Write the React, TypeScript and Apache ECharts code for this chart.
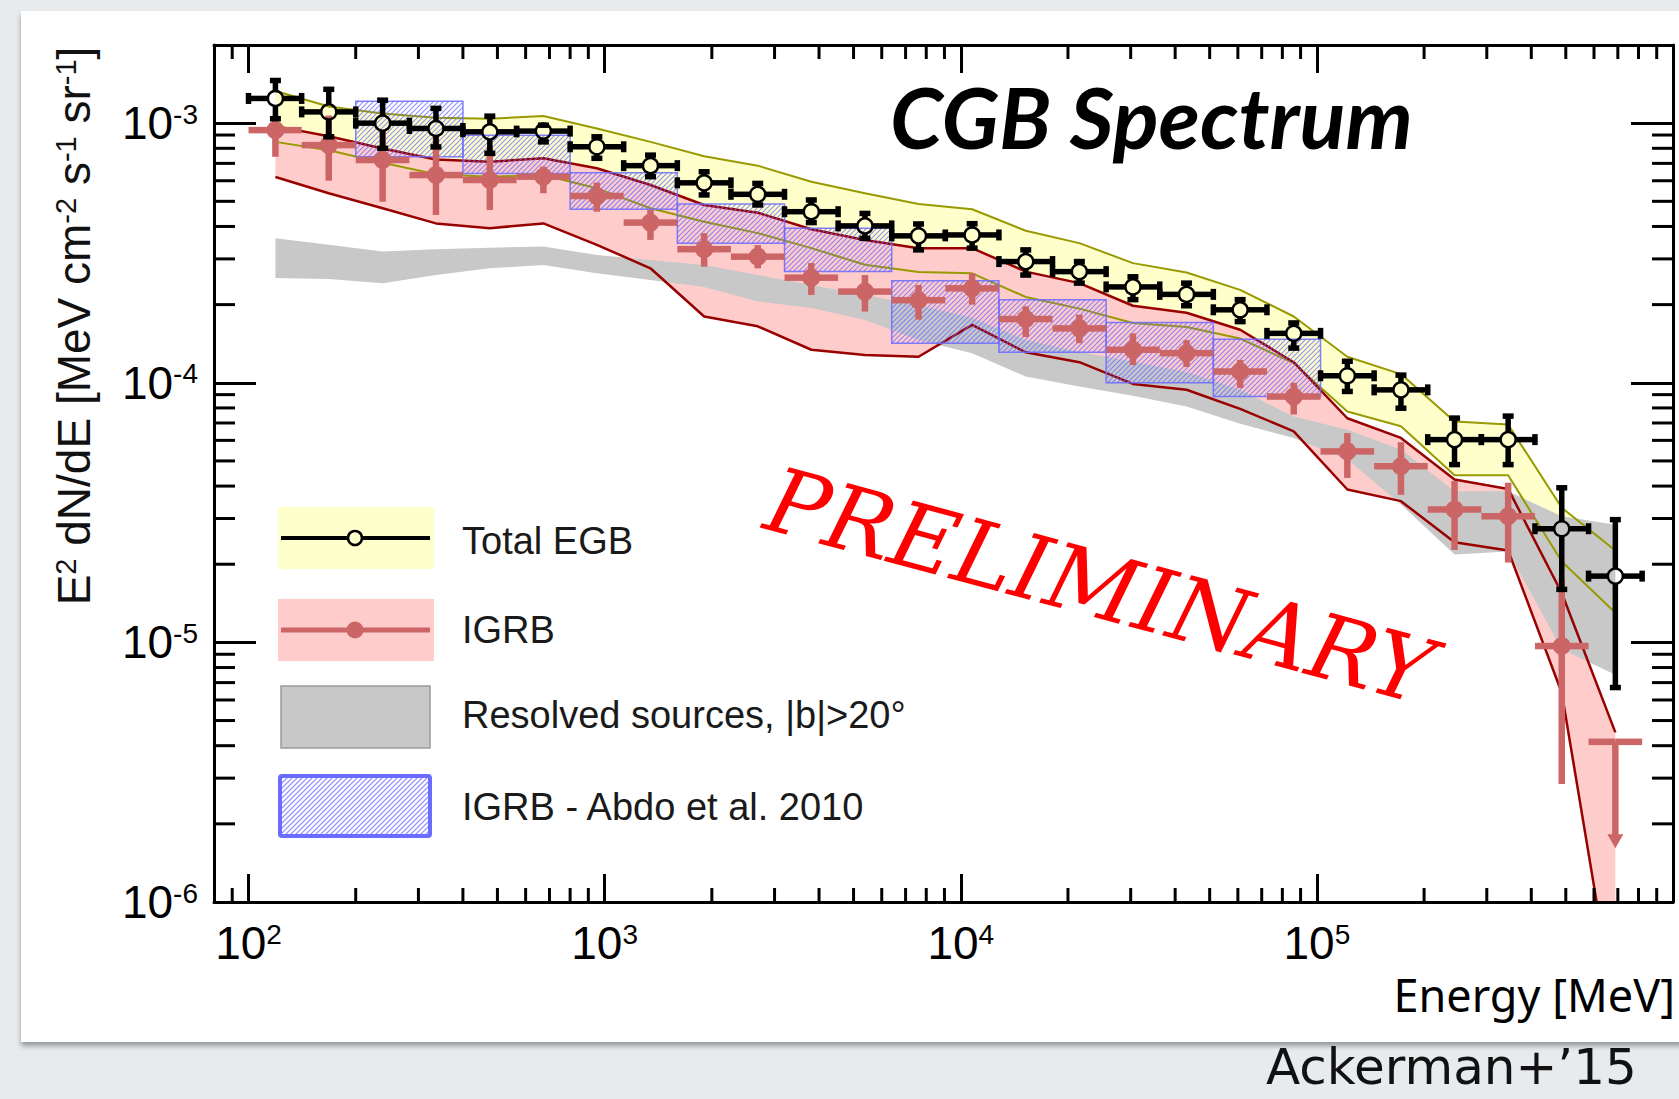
import React, { useEffect, useRef } from 'react';
import * as echarts from 'echarts';

// ---- Energy binning (MeV) ----
const binLow = [100, 141, 200, 283, 400, 566, 800, 1131, 1600, 2263, 3200, 4525, 6400, 9051, 12800, 18102, 25600, 36204, 51200, 72408, 102400, 144815, 204800, 289631, 409600, 579262];
const binHigh = [141, 200, 283, 400, 566, 800, 1131, 1600, 2263, 3200, 4525, 6400, 9051, 12800, 18102, 25600, 36204, 51200, 72408, 102400, 144815, 204800, 289631, 409600, 579262, 819200];
const binCenter = [119, 168, 238, 336, 476, 673, 951, 1345, 1903, 2691, 3805, 5382, 7611, 10763, 15222, 21527, 30443, 43054, 60887, 86107, 121775, 172215, 243549, 344431, 487099, 688862];

// ---- Total EGB (E^2 dN/dE, MeV cm^-2 s^-1 sr^-1) ----
const egbFlux = [1.245e-3, 1.105e-3, 1.0e-3, 0.954e-3, 0.926e-3, 0.932e-3, 0.811e-3, 0.686e-3, 0.589e-3, 0.532e-3, 0.456e-3, 0.402e-3, 0.368e-3, 0.371e-3, 0.293e-3, 0.268e-3, 0.234e-3, 0.219e-3, 0.191e-3, 0.155e-3, 1.064e-4, 0.939e-4, 6.04e-5, 6.04e-5, 2.74e-5, 1.8e-5];
const egbErrHigh = [1.46e-3, 1.35e-3, 1.226e-3, 1.14e-3, 1.064e-3, 0.982e-3, 0.886e-3, 0.753e-3, 0.65e-3, 0.586e-3, 0.506e-3, 0.449e-3, 0.409e-3, 0.41e-3, 0.325e-3, 0.293e-3, 0.256e-3, 0.242e-3, 0.209e-3, 0.17e-3, 1.21e-4, 1.07e-4, 7.31e-5, 7.44e-5, 3.94e-5, 2.97e-5];
const egbErrLow = [1.04e-3, 0.886e-3, 0.8e-3, 0.81e-3, 0.765e-3, 0.847e-3, 0.732e-3, 0.622e-3, 0.529e-3, 0.484e-3, 0.414e-3, 0.36e-3, 0.325e-3, 0.33e-3, 0.26e-3, 0.242e-3, 0.209e-3, 0.198e-3, 0.172e-3, 0.136e-3, 0.926e-4, 0.798e-4, 4.84e-5, 4.84e-5, 1.6e-5, 6.7e-6];
const egbSysHigh = [1.33e-3, 1.16e-3, 1.09e-3, 1.05e-3, 1.04e-3, 1.066e-3, 0.954e-3, 0.847e-3, 0.746e-3, 0.686e-3, 0.595e-3, 0.537e-3, 0.488e-3, 0.466e-3, 0.385e-3, 0.345e-3, 0.289e-3, 0.266e-3, 0.228e-3, 0.18e-3, 1.26e-4, 1.08e-4, 7.1e-5, 6.9e-5, 3.3e-5, 2.26e-5];
const egbSysLow = [0.847e-3, 0.787e-3, 0.704e-3, 0.636e-3, 0.622e-3, 0.631e-3, 0.561e-3, 0.47e-3, 0.417e-3, 0.377e-3, 0.33e-3, 0.285e-3, 0.267e-3, 0.264e-3, 0.214e-3, 0.193e-3, 0.17e-3, 0.164e-3, 0.148e-3, 0.119e-3, 7.75e-5, 6.8e-5, 4.4e-5, 4.4e-5, 2.05e-5, 1.3e-5];

// ---- IGRB ----
const igrbFlux = [0.94e-3, 0.823e-3, 0.721e-3, 0.631e-3, 0.604e-3, 0.622e-3, 0.524e-3, 0.414e-3, 0.327e-3, 0.306e-3, 0.254e-3, 0.2245e-3, 0.208e-3, 0.231e-3, 0.176e-3, 0.162e-3, 0.134e-3, 0.13e-3, 1.105e-4, 0.885e-4, 5.44e-5, 4.77e-5, 3.25e-5, 3.06e-5, 9.68e-6, 4.14e-6];
const igrbErrHigh = [1.07e-3, 1.07e-3, 0.94e-3, 0.886e-3, 0.811e-3, 0.68e-3, 0.59e-3, 0.463e-3, 0.377e-3, 0.339e-3, 0.289e-3, 0.26e-3, 0.238e-3, 0.264e-3, 0.197e-3, 0.183e-3, 0.155e-3, 0.146e-3, 1.225e-4, 1.0e-4, 6.4e-5, 5.9e-5, 4.18e-5, 4.12e-5, 1.75e-5, 4.14e-6];
const igrbErrLow = [0.742e-3, 0.6e-3, 0.498e-3, 0.443e-3, 0.463e-3, 0.537e-3, 0.456e-3, 0.355e-3, 0.28e-3, 0.276e-3, 0.218e-3, 0.188e-3, 0.175e-3, 0.2e-3, 0.15e-3, 0.142e-3, 0.117e-3, 0.115e-3, 0.955e-4, 0.755e-4, 4.3e-5, 3.7e-5, 2.27e-5, 2.03e-5, 2.85e-6, 1.61e-6];
const igrbIsLimit = [0, 0, 0, 0, 0, 0, 0, 0, 0, 0, 0, 0, 0, 0, 0, 0, 0, 0, 0, 0, 0, 0, 0, 0, 0, 1];
const igrbSysHigh = [0.974e-3, 0.891e-3, 0.799e-3, 0.725e-3, 0.71e-3, 0.732e-3, 0.67e-3, 0.578e-3, 0.484e-3, 0.452e-3, 0.39e-3, 0.355e-3, 0.33e-3, 0.33e-3, 0.268e-3, 0.242e-3, 0.198e-3, 0.186e-3, 0.16e-3, 1.2e-4, 7.3e-5, 6.13e-5, 4.24e-5, 3.9e-5, 1.55e-5, 4.5e-6];
const igrbSysLow = [0.62e-3, 0.537e-3, 0.47e-3, 0.411e-3, 0.394e-3, 0.411e-3, 0.34e-3, 0.276e-3, 0.18e-3, 0.165e-3, 0.134e-3, 0.128e-3, 0.126e-3, 0.167e-3, 0.131e-3, 0.12e-3, 0.099e-3, 0.094e-3, 0.0793e-3, 6.5e-5, 3.88e-5, 3.5e-5, 2.43e-5, 2.26e-5, 6.4e-6, 3.7e-7];

// ---- Resolved sources, |b|>20 deg ----
const resolvedHigh = [0.36e-3, 0.34e-3, 0.32e-3, 0.327e-3, 0.331e-3, 0.335e-3, 0.3105e-3, 0.297e-3, 0.284e-3, 0.26e-3, 0.238e-3, 0.218e-3, 0.1995e-3, 0.178e-3, 0.146e-3, 0.1315e-3, 0.1204e-3, 0.11e-3, 0.094e-3, 7.41e-5, 6.59e-5, 5.53e-5, 3.82e-5, 3.82e-5, 3.06e-5, 2.84e-5];
const resolvedLow = [0.253e-3, 0.251e-3, 0.2417e-3, 0.26e-3, 0.276e-3, 0.284e-3, 0.264e-3, 0.249e-3, 0.234e-3, 0.2055e-3, 0.194e-3, 0.1745e-3, 0.146e-3, 0.13e-3, 0.1057e-3, 0.0968e-3, 0.0891e-3, 0.0811e-3, 0.0695e-3, 6.13e-5, 5.06e-5, 3.4e-5, 2.18e-5, 2.24e-5, 9.4e-6, 7.5e-6];

// ---- IGRB, Abdo et al. 2010 ----
const abdoEnergyLow = [200, 400, 800, 1600, 3200, 6400, 12800, 25600, 51200];
const abdoEnergyHigh = [400, 800, 1600, 3200, 6400, 12800, 25600, 51200, 102400];
const abdoFluxHigh = [1.215e-3, 0.899e-3, 0.644e-3, 0.488e-3, 0.394e-3, 0.247e-3, 0.209e-3, 0.1706e-3, 0.147e-3];
const abdoFluxLow = [0.742e-3, 0.64e-3, 0.466e-3, 0.345e-3, 0.268e-3, 0.142e-3, 0.131e-3, 0.1e-3, 0.0886e-3];

// ---- Axes ----
const xRange = [80, 1e6];
const yRange = [1e-6, 2e-3];
const xTickExponents = [2, 3, 4, 5];
const yTickExponents = [-6, -5, -4, -3];

const AXIS_FONT = '"Liberation Sans", Arial, Helvetica, sans-serif';
const TITLE_FONT = 'Lato, "Open Sans", sans-serif';
const NOTE_FONT = '"Noto Sans", "Open Sans", sans-serif';

const YELLOW = '#ffffcc';
const PINK = '#ffcccc';
const GREY = '#c8c8c8';
const OLIVE = '#999900';
const DARK_RED = '#990000';
const IGRB_RED = '#cc6666';
const HATCH_BLUE = '#6b6bff';

const decadeTicks = (fromExp: number, toExp: number) => {
  const out: number[] = [];
  for (let k = fromExp; k < toExp; k++) for (let m = 2; m <= 9; m++) out.push(m * Math.pow(10, k));
  return out;
};
const xMinorTicks = [90, ...decadeTicks(2, 6)];
const yMinorTicks = decadeTicks(-6, -3);

const powerLabel = (exps: number[]) => (value: number) => {
  const e = Math.log10(value);
  const r = Math.round(e);
  if (Math.abs(e - r) > 1e-6 || exps.indexOf(r) < 0) return '';
  return `{b|10}{s|${r}}`;
};

const labelRich = {
  b: { fontFamily: AXIS_FONT, fontSize: 46, lineHeight: 46, padding: [6, 0, 0, 0], verticalAlign: 'bottom', color: '#000' },
  s: { fontFamily: AXIS_FONT, fontSize: 28, lineHeight: 28, verticalAlign: 'top', color: '#000' },
};

// diagonal "////" hatch lines clipped to a rectangle
function hatchLines(x0: number, y0: number, w: number, h: number, step: number, width: number) {
  const out: any[] = [];
  const start = Math.ceil((x0 + y0) / step) * step;
  for (let c = start; c <= x0 + w + y0 + h; c += step) {
    const xa = Math.max(x0, c - (y0 + h));
    const xb = Math.min(x0 + w, c - y0);
    if (xb <= xa) continue;
    out.push({ type: 'line', shape: { x1: xa, y1: c - xa, x2: xb, y2: c - xb }, style: { stroke: HATCH_BLUE, lineWidth: width, opacity: 0.75 } });
  }
  return out;
}

const bandSeries = (low: number[], high: number[], fill: string) => ({
  type: 'custom',
  silent: true,
  clip: true,
  z: 2,
  data: binCenter.map((e, i) => [e, low[i], high[i]]),
  encode: { x: 0, y: [1, 2] },
  renderItem: (params: any, api: any) => {
    if (params.dataIndex !== 0) return null;
    const top = binCenter.map((e, i) => api.coord([e, high[i]]));
    const bottom = binCenter.map((e, i) => api.coord([e, low[i]])).reverse();
    return { type: 'polygon', shape: { points: top.concat(bottom) }, style: { fill } };
  },
});

const outlineSeries = (values: number[], color: string, width: number) => ({
  type: 'line',
  silent: true,
  clip: true,
  z: 3,
  symbol: 'none',
  showSymbol: false,
  data: binCenter.map((e, i) => [e, values[i]]),
  lineStyle: { color, width },
});

function errorBarRenderer(color: string, lw: number, cap: number, radius: number, hollow: boolean) {
  return (_params: any, api: any) => {
    const E = api.value(0);
    const v = api.value(1);
    const c = api.coord([E, v]);
    const xl = api.coord([api.value(2), v])[0];
    const xh = api.coord([api.value(3), v])[0];
    const yLo = api.coord([E, api.value(4)])[1];
    const yHi = api.coord([E, api.value(5)])[1];
    const limit = api.value(6) === 1;
    const gap = hollow ? radius : 0;
    const kids: any[] = [];
    const seg = (x1: number, y1: number, x2: number, y2: number, w = lw) =>
      kids.push({ type: 'line', shape: { x1, y1, x2, y2 }, style: { stroke: color, lineWidth: w } });
    seg(xl, c[1], c[0] - gap, c[1]);
    seg(c[0] + gap, c[1], xh, c[1]);
    if (limit) {
      const head = 14;
      seg(c[0], c[1], c[0], yLo - head + 1);
      kids.push({ type: 'polygon', shape: { points: [[c[0] - 8, yLo - head], [c[0] + 8, yLo - head], [c[0], yLo]] }, style: { fill: color } });
      return { type: 'group', children: kids };
    }
    if (c[1] - gap > yHi) seg(c[0], yHi, c[0], c[1] - gap);
    if (yLo > c[1] + gap) seg(c[0], c[1] + gap, c[0], yLo);
    if (cap > 0) {
      const cw = lw;
      seg(xl, c[1] - cap / 2, xl, c[1] + cap / 2, cw);
      seg(xh, c[1] - cap / 2, xh, c[1] + cap / 2, cw);
      seg(c[0] - cap / 2, yHi, c[0] + cap / 2, yHi, cw);
      seg(c[0] - cap / 2, yLo, c[0] + cap / 2, yLo, cw);
    }
    kids.push(
      hollow
        ? { type: 'circle', shape: { cx: c[0], cy: c[1], r: radius }, style: { fill: 'none', stroke: color, lineWidth: 2.5 } }
        : { type: 'circle', shape: { cx: c[0], cy: c[1], r: radius }, style: { fill: color } }
    );
    return { type: 'group', children: kids };
  };
}

function buildOption() {
  const xAxisBase = {
    type: 'log',
    logBase: 10,
    min: xRange[0],
    max: xRange[1],
    z: 10,
    splitLine: { show: false },
    axisLine: { show: true, onZero: false, lineStyle: { color: '#000', width: 3 } },
    axisTick: { show: true, inside: true, length: 28, lineStyle: { color: '#000', width: 3 } },
  };
  const yAxisBase = {
    type: 'log',
    logBase: 10,
    min: yRange[0],
    max: yRange[1],
    z: 10,
    splitLine: { show: false },
    axisLine: { show: true, onZero: false, lineStyle: { color: '#000', width: 3 } },
    axisTick: { show: true, inside: true, length: 42, lineStyle: { color: '#000', width: 3 } },
  };

  const legendHatch = hatchLines(281, 777, 148, 58, 5, 1.1);

  const graphic: any[] = [
    // y-axis title
    {
      type: 'text',
      x: 74,
      y: 326,
      rotation: Math.PI / 2,
      style: {
        text: '{b|E}{s|2}{b| dN/dE [MeV cm}{s|-2}{b| s}{s|-1}{b| sr}{s|-1}{b|]}',
        align: 'center',
        verticalAlign: 'middle',
        rich: {
          b: { fontFamily: AXIS_FONT, fontSize: 46, lineHeight: 46, padding: [11, 0, 0, 0], verticalAlign: 'bottom', fill: '#111' },
          s: { fontFamily: AXIS_FONT, fontSize: 29, lineHeight: 29, verticalAlign: 'top', fill: '#111' },
        },
      },
    },
    {
      type: 'text',
      x: 1675,
      y: 994,
      style: { text: 'Energy [MeV]', fontFamily: NOTE_FONT, fontSize: 45, fill: '#000', align: 'right', verticalAlign: 'middle' },
    },
    {
      type: 'text',
      x: 890,
      y: 116,
      style: { text: 'CGB Spectrum', fontFamily: TITLE_FONT, fontSize: 85, fontWeight: 'bold', fontStyle: 'italic', fill: '#000', align: 'left', verticalAlign: 'middle' },
    },
    {
      type: 'text',
      x: 1100,
      y: 586,
      rotation: -0.262,
      style: { text: 'PRELIMINARY', fontFamily: '"DejaVu Serif", serif', fontSize: 90, fontStyle: 'italic', fill: '#ff0000', align: 'center', verticalAlign: 'middle' },
    },
    {
      type: 'text',
      x: 1266,
      y: 1067,
      style: { text: 'Ackerman+\u201915', fontFamily: '"DejaVu Sans", sans-serif', fontSize: 50, fill: '#111', align: 'left', verticalAlign: 'middle' },
    },
    // legend: Total EGB
    { type: 'rect', shape: { x: 278, y: 507, width: 156, height: 62 }, style: { fill: YELLOW } },
    { type: 'line', shape: { x1: 281, y1: 538, x2: 348, y2: 538 }, style: { stroke: '#000', lineWidth: 4 } },
    { type: 'line', shape: { x1: 362, y1: 538, x2: 430, y2: 538 }, style: { stroke: '#000', lineWidth: 4 } },
    { type: 'circle', shape: { cx: 355, cy: 538, r: 7 }, style: { fill: 'none', stroke: '#000', lineWidth: 2.5 } },
    // legend: IGRB
    { type: 'rect', shape: { x: 278, y: 599, width: 156, height: 62 }, style: { fill: PINK } },
    { type: 'line', shape: { x1: 281, y1: 630, x2: 430, y2: 630 }, style: { stroke: IGRB_RED, lineWidth: 5 } },
    { type: 'circle', shape: { cx: 355, cy: 630, r: 8.5 }, style: { fill: IGRB_RED } },
    // legend: resolved sources
    { type: 'rect', shape: { x: 281, y: 686, width: 149, height: 62 }, style: { fill: GREY, stroke: '#9a9a9a', lineWidth: 1.5 } },
    // legend: Abdo et al.
    { type: 'rect', shape: { x: 281, y: 777, width: 148, height: 58 }, style: { fill: '#fff' } },
    ...legendHatch,
    { type: 'rect', shape: { x: 280, y: 776, width: 150, height: 60, r: 2 }, style: { fill: 'none', stroke: HATCH_BLUE, lineWidth: 4 } },
    { type: 'text', x: 462, y: 541, style: { text: 'Total EGB', fontFamily: AXIS_FONT, fontSize: 38, fill: '#1a1a1a', verticalAlign: 'middle' } },
    { type: 'text', x: 462, y: 630, style: { text: 'IGRB', fontFamily: AXIS_FONT, fontSize: 38, fill: '#1a1a1a', verticalAlign: 'middle' } },
    { type: 'text', x: 462, y: 715, style: { text: 'Resolved sources, |b|>20\u00b0', fontFamily: AXIS_FONT, fontSize: 38, fill: '#1a1a1a', verticalAlign: 'middle' } },
    { type: 'text', x: 462, y: 807, style: { text: 'IGRB - Abdo et al. 2010', fontFamily: AXIS_FONT, fontSize: 38, fill: '#1a1a1a', verticalAlign: 'middle' } },
  ];

  return {
    animation: false,
    backgroundColor: 'transparent',
    grid: { left: 214, top: 45, width: 1459, height: 857, containLabel: false, outerBoundsMode: 'none' },
    xAxis: [
      {
        ...xAxisBase,
        position: 'bottom',
        axisLabel: { show: true, margin: 18, formatter: powerLabel(xTickExponents), rich: labelRich, color: '#000' },
      },
      { ...xAxisBase, position: 'top', axisLabel: { show: false } },
    ],
    yAxis: [
      {
        ...yAxisBase,
        position: 'left',
        axisLabel: { show: true, margin: 16, formatter: powerLabel(yTickExponents), rich: labelRich, color: '#000' },
      },
      { ...yAxisBase, position: 'right', axisLabel: { show: false } },
    ],
    graphic,
    series: [
      bandSeries(egbSysLow, egbSysHigh, YELLOW),
      bandSeries(igrbSysLow, igrbSysHigh, PINK),
      bandSeries(resolvedLow, resolvedHigh, GREY),
      outlineSeries(egbSysHigh, OLIVE, 2),
      outlineSeries(egbSysLow, OLIVE, 2),
      outlineSeries(igrbSysHigh, DARK_RED, 2.5),
      outlineSeries(igrbSysLow, DARK_RED, 2.5),
      {
        type: 'custom',
        silent: true,
        z: 4,
        data: abdoEnergyLow.map((e, i) => [e, abdoEnergyHigh[i], abdoFluxLow[i], abdoFluxHigh[i]]),
        encode: { x: [0, 1], y: [2, 3] },
        renderItem: (_params: any, api: any) => {
          const p1 = api.coord([api.value(0), api.value(3)]);
          const p2 = api.coord([api.value(1), api.value(2)]);
          const x0 = p1[0];
          const y0 = p1[1];
          const w = p2[0] - p1[0];
          const h = p2[1] - p1[1];
          return {
            type: 'group',
            children: [
              ...hatchLines(x0, y0, w, h, 5, 1.1),
              { type: 'rect', shape: { x: x0, y: y0, width: w, height: h }, style: { fill: 'none', stroke: HATCH_BLUE, lineWidth: 1.5, opacity: 0.85 } },
            ],
          };
        },
      },
      {
        type: 'custom',
        silent: true,
        z: 5,
        data: binCenter.map((e, i) => [e, igrbFlux[i], binLow[i], binHigh[i], igrbErrLow[i], igrbErrHigh[i], igrbIsLimit[i]]),
        encode: { x: 0, y: 1 },
        renderItem: errorBarRenderer(IGRB_RED, 6.5, 0, 9, false),
      },
      {
        type: 'custom',
        silent: true,
        z: 6,
        data: binCenter.map((e, i) => [e, egbFlux[i], binLow[i], binHigh[i], egbErrLow[i], egbErrHigh[i], 0]),
        encode: { x: 0, y: 1 },
        renderItem: errorBarRenderer('#000', 5.5, 11, 7.5, true),
      },
      // minor ticks on the bottom and top frame
      {
        type: 'custom',
        silent: true,
        z: 7,
        data: xMinorTicks.map((v) => [v, 1e-5]),
        encode: { x: 0, y: 1 },
        renderItem: (params: any, api: any) => {
          const cs = params.coordSys;
          const x = api.coord([api.value(0), 1e-5])[0];
          const st = { stroke: '#000', lineWidth: 3 };
          return {
            type: 'group',
            children: [
              { type: 'line', shape: { x1: x, y1: cs.y + cs.height, x2: x, y2: cs.y + cs.height - 14 }, style: st },
              { type: 'line', shape: { x1: x, y1: cs.y, x2: x, y2: cs.y + 14 }, style: st },
            ],
          };
        },
      },
      // minor ticks on the left and right frame
      {
        type: 'custom',
        silent: true,
        z: 7,
        data: yMinorTicks.map((v) => [1000, v]),
        encode: { x: 0, y: 1 },
        renderItem: (params: any, api: any) => {
          const cs = params.coordSys;
          const y = api.coord([1000, api.value(1)])[1];
          const st = { stroke: '#000', lineWidth: 3 };
          return {
            type: 'group',
            children: [
              { type: 'line', shape: { x1: cs.x, y1: y, x2: cs.x + 21, y2: y }, style: st },
              { type: 'line', shape: { x1: cs.x + cs.width, y1: y, x2: cs.x + cs.width - 21, y2: y }, style: st },
            ],
          };
        },
      },
    ],
  };
}

export default function App() {
  const ref = useRef<HTMLDivElement>(null);
  useEffect(() => {
    if (!ref.current) return;
    const chart = echarts.init(ref.current, null, { renderer: 'svg' });
    chart.setOption(buildOption() as any);
    return () => chart.dispose();
  }, []);
  return (
    <div style={{ position: 'fixed', left: 0, top: 0, width: 1679, height: 1099, overflow: 'hidden', background: '#e8ebee' }}>
      <div style={{ position: 'absolute', left: 21, top: 11, width: 1720, height: 1031, background: '#ffffff', boxShadow: '0 4px 5px rgba(0,0,0,0.35)' }} />
      <div ref={ref} style={{ position: 'absolute', left: 0, top: 0, width: 1679, height: 1099 }} />
    </div>
  );
}
